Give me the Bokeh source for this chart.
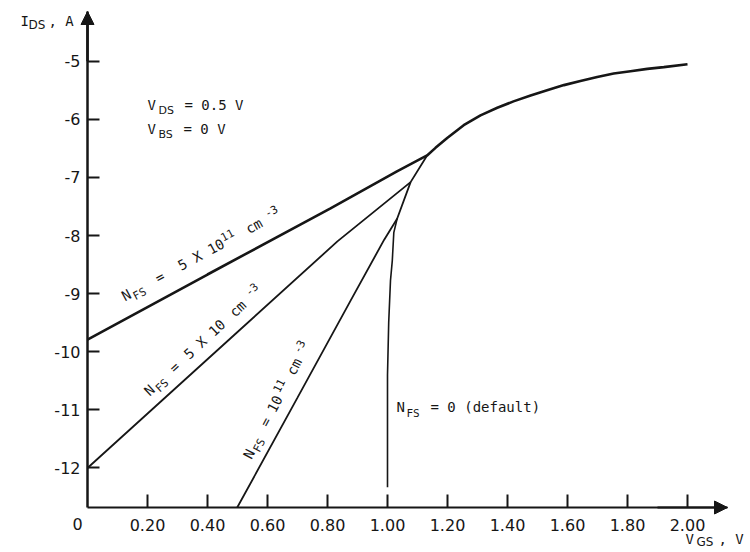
import math
from bokeh.plotting import figure
from bokeh.models import Range1d, FixedTicker, Label, Arrow, NormalHead, LinearAxis
from bokeh.embed import file_html
from bokeh.resources import INLINE

# ---------------- data ----------------
# V_GS in volts, log10(I_DS) in decades
nfs_5e11_v = [0.00, 0.40, 0.81, 1.03, 1.132, 1.16, 1.199, 1.254, 1.31, 1.366, 1.42,
              1.477, 1.532, 1.588, 1.643, 1.699, 1.754, 1.81, 1.866, 1.921, 2.00]
nfs_5e11_i = [-9.79, -8.67, -7.53, -6.90, -6.62, -6.49, -6.32, -6.10, -5.93, -5.80, -5.69,
              -5.59, -5.50, -5.41, -5.34, -5.27, -5.21, -5.17, -5.13, -5.10, -5.05]

nfs_5e10_v = [0.00, 0.25, 0.50, 0.833, 1.077, 1.132]
nfs_5e10_i = [-12.00, -10.83, -9.66, -8.10, -7.08, -6.62]

nfs_1e11_v = [0.499, 0.70, 0.877, 0.989, 1.032, 1.077]
nfs_1e11_i = [-12.68, -10.79, -9.12, -8.07, -7.71, -7.08]

nfs_0_v = [1.000, 1.000, 1.004, 1.010, 1.016, 1.021, 1.032]
nfs_0_i = [-12.33, -10.40, -9.50, -8.77, -8.43, -7.95, -7.71]

x_ticks = [0.2, 0.4, 0.6, 0.8, 1.0, 1.2, 1.4, 1.6, 1.8, 2.0]
x_tick_labels = ["0.20", "0.40", "0.60", "0.80", "1.00", "1.20", "1.40", "1.60", "1.80", "2.00"]
y_ticks = [-5, -6, -7, -8, -9, -10, -11, -12]
y_tick_labels = ["-5", "-6", "-7", "-8", "-9", "-10", "-11", "-12"]

# ---------------- layout ----------------
INK = "#161616"
TICK_FONT = "DejaVu Sans"
ANN_FONT = "DejaVu Sans Mono"
BASELINE_FIX = 0.43   # empirical lift of a label's drawn baseline, in em

W, H = 750, 552
ORIGIN_PX, AXIS_PY = 87, 507      # pixel position of V=0 and of the x axis
PX_PER_V = 300.0
PX_PER_DEC = 58.1
Y_AXIS_BOTTOM = -12.68


def xd(px):
    return (px - ORIGIN_PX) / PX_PER_V


def yd(py):
    return Y_AXIS_BOTTOM + (AXIS_PY - py) / PX_PER_DEC


X_END = xd(727)   # tip of the x arrow
Y_END = yd(11)    # tip of the y arrow

p = figure(width=W, height=H, output_backend="svg", toolbar_location=None,
           x_range=Range1d(xd(0), xd(W)), y_range=Range1d(yd(H), yd(0)),
           x_axis_location=None, y_axis_location=None, min_border=0)
p.outline_line_color = None
p.xgrid.visible = False
p.ygrid.visible = False
p.background_fill_color = "white"
p.border_fill_color = "white"

xaxis = LinearAxis(fixed_location=Y_AXIS_BOTTOM, bounds=(0, X_END),
                   ticker=FixedTicker(ticks=x_ticks),
                   major_label_overrides=dict(zip(x_ticks, x_tick_labels)))
yaxis = LinearAxis(fixed_location=0, bounds=(Y_AXIS_BOTTOM, Y_END),
                   ticker=FixedTicker(ticks=y_ticks),
                   major_label_overrides=dict(zip(y_ticks, y_tick_labels)))
for ax in (xaxis, yaxis):
    ax.axis_line_color = INK
    ax.major_tick_line_color = INK
    ax.major_tick_line_width = 2
    ax.major_tick_out = 0
    ax.minor_tick_line_color = None
    ax.major_label_text_font = TICK_FONT
    ax.major_label_text_font_size = "16px"
    ax.major_label_text_color = INK
xaxis.axis_line_width = 2
yaxis.axis_line_width = 2.5
xaxis.major_tick_in = 13
yaxis.major_tick_in = 12
xaxis.major_label_standoff = 11
yaxis.major_label_standoff = 7
p.add_layout(xaxis, "below")
p.add_layout(yaxis, "left")

# arrow heads on the axes
p.add_layout(Arrow(end=NormalHead(size=13, fill_color=INK, line_color=INK),
                   x_start=0, y_start=-5.0, x_end=0, y_end=Y_END,
                   line_color=INK, line_width=2.5))
p.add_layout(Arrow(end=NormalHead(size=13, fill_color=INK, line_color=INK),
                   x_start=1.9, y_start=Y_AXIS_BOTTOM, x_end=X_END, y_end=Y_AXIS_BOTTOM,
                   line_color=INK, line_width=2))

# curves
p.line(nfs_5e11_v, nfs_5e11_i, line_color=INK, line_width=2.6)
p.line(nfs_5e10_v, nfs_5e10_i, line_color=INK, line_width=1.8)
p.line(nfs_1e11_v, nfs_1e11_i, line_color=INK, line_width=1.8)
p.line(nfs_0_v, nfs_0_i, line_color=INK, line_width=1.6)


def rich(ax_px, ay_px, angle, pieces, font=ANN_FONT):
    a = math.radians(angle)
    c, s_ = math.cos(a), math.sin(a)
    for piece in pieces:
        text, size, s, d = piece[:4]
        f = piece[4] if len(piece) > 4 else font
        d = d + BASELINE_FIX * size
        px = ax_px + s * c - d * s_
        py = ay_px - s * s_ - d * c
        p.add_layout(Label(x=xd(px), y=yd(py), text=text, angle=angle, angle_units="deg",
                           text_font=f, text_font_size=f"{size}px",
                           text_baseline="alphabetic", text_align="left",
                           text_color=INK))


SUB = "DejaVu Sans"

# axis titles
rich(20, 27, 0, [("I", 14, 0, 0), ("DS", 12, 8, -3, SUB), (", A", 14, 28, 0)])
rich(685, 545, 0, [("V", 14, 0, 0), ("GS", 12, 11, -2, SUB), (", V", 14, 33, 0)])
# "0" at the origin
rich(72, 530, 0, [("0", 16, 0, 0)], font=TICK_FONT)

# conditions
rich(147, 111, 0, [("V", 14, 0, 0), ("DS", 11, 11, -4, SUB), ("= 0.5 V", 14, 37, 0)])
rich(147, 135, 0, [("V", 14, 0, 0), ("BS", 11, 11, -4, SUB), ("= 0 V", 14, 36, 0)])

# curve labels
rich(125, 302, 28.5, [("N", 14, 0, 0), ("FS", 11, 10, -4), ("=", 14, 38, 0),
                      ("5 X 10", 14, 64, 0), ("11", 11, 115, 6), ("cm", 14, 141, 0),
                      ("-3", 11, 165, 6)])
rich(150, 397, 42.8, [("N", 14, 0, 0), ("FS", 11, 10, -4), ("=", 14, 34, 0),
                      ("5 X 10", 14, 54, 0), ("cm", 14, 116, 0), ("-3", 11, 141, 6)])
rich(252, 460, 62.7, [("N", 14, 0, 0), ("FS", 11, 10, -4), ("=", 14, 36, 0),
                      ("10", 14, 52, 0), ("11", 11, 72, 6), ("cm", 14, 94, 0),
                      ("-3", 11, 116, 6)])
rich(396, 413, 0, [("N", 14, 0, 0), ("FS", 11, 10, -5), ("= 0 (default)", 14, 34, 0)])

open("out.html", "w").write(file_html(p, INLINE))
